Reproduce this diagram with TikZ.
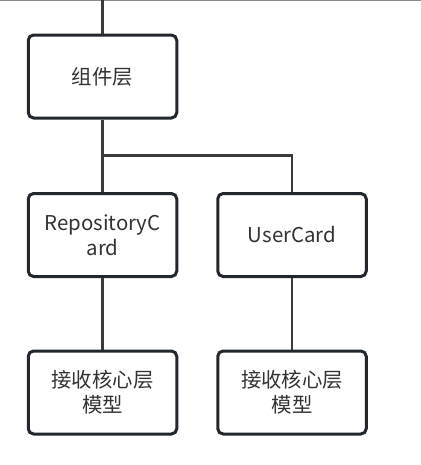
\documentclass[tikz,border=0pt]{standalone}
\usepackage{fontspec}
\newfontfamily\cjk{Noto Sans CJK SC}
\definecolor{boxline}{HTML}{22272E}
\definecolor{conn}{HTML}{3A3A3A}
\definecolor{txt}{HTML}{333333}
\definecolor{topgrey}{HTML}{8A8A8A}
\begin{document}
\begin{tikzpicture}[x=0.75pt,y=-0.75pt,
  card/.style={draw=boxline,line width=2.25pt,rounded corners=4pt,fill=white,
    minimum width=148.5*0.75pt,minimum height=83*0.75pt,inner sep=0pt,
    align=center,text=txt,font=\cjk\fontsize{15.3pt}{19pt}\selectfont},
  link/.style={draw=conn,line width=1.6pt}]
\useasboundingbox (0,0) rectangle (421,465);
\coordinate (tl) at (0,0.5);
\coordinate (tr) at (421,0.5);
\draw[topgrey,line width=1pt] (tl) -- (tr);
\coordinate (top) at (102.5,0);
\node[card] (b1) at (102.5,76.5) {\raisebox{-1pt}{组件层}};
\node[card] (b2) at (102.5,235) {RepositoryC\\ard};
\node[card] (b3) at (292,235) {UserCard};
\node[card] (b4) at (102.5,392.5) {接收核心层\\模型};
\node[card] (b5) at (292,392.5) {接收核心层\\模型};
\coordinate (j) at (102.5,155.5);
\path[link] (top) -- (b1.north);
\path[link] (b1.south) -- (b2.north);
\path[link] (j) -| (b3.north);
\path[link] (b2.south) -- (b4.north);
\path[link] (b3.south) -- (b5.north);
\end{tikzpicture}
\end{document}
